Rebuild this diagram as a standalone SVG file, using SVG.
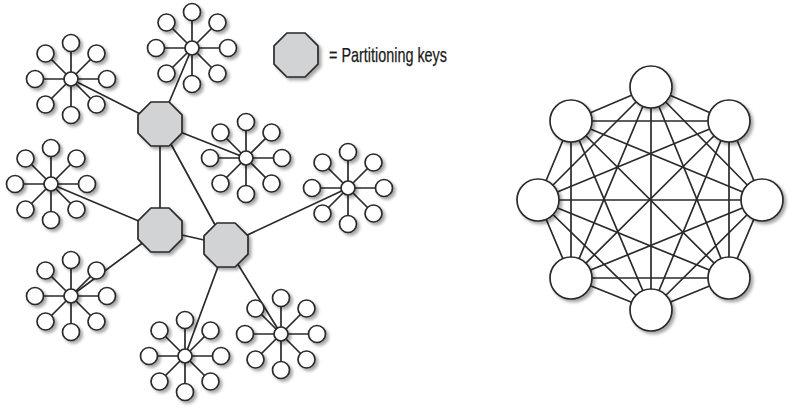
<svg xmlns="http://www.w3.org/2000/svg" xmlns:xlink="http://www.w3.org/1999/xlink" width="800" height="411" viewBox="0 0 800 411">
<style>
  .ln { stroke: #2a2a2a; stroke-width: 1.7; fill: none; stroke-linecap: round; }
  .node { fill: #ffffff; stroke: #2a2a2a; stroke-width: 1.7; }
  .key { fill: #d2d3d5; stroke: #2a2a2a; stroke-width: 1.7; stroke-linejoin: round; }
  .lbl { font-family: "Liberation Sans", Arial, sans-serif; font-size: 21px; fill: #1a1a1a; stroke: #1a1a1a; stroke-width: 0.25; }
</style>
<defs>
  <filter id="sh" x="-30%" y="-30%" width="170%" height="170%">
    <feDropShadow dx="2.5" dy="2.5" stdDeviation="1.8" flood-color="#000" flood-opacity="0.35"/>
  </filter>
  <g id="star">
    <g class="ln">
      <line x1="0" y1="0" x2="0" y2="-36"/>
      <line x1="0" y1="0" x2="25.5" y2="-25.5"/>
      <line x1="0" y1="0" x2="36" y2="0"/>
      <line x1="0" y1="0" x2="25.5" y2="25.5"/>
      <line x1="0" y1="0" x2="0" y2="36"/>
      <line x1="0" y1="0" x2="-25.5" y2="25.5"/>
      <line x1="0" y1="0" x2="-36" y2="0"/>
      <line x1="0" y1="0" x2="-25.5" y2="-25.5"/>
    </g>
    <g filter="url(#sh)">
      <circle class="node" cx="0" cy="0" r="7"/>
      <circle class="node" cx="0" cy="-36" r="8.5"/>
      <circle class="node" cx="25.5" cy="-25.5" r="8.5"/>
      <circle class="node" cx="36" cy="0" r="8.5"/>
      <circle class="node" cx="25.5" cy="25.5" r="8.5"/>
      <circle class="node" cx="0" cy="36" r="8.5"/>
      <circle class="node" cx="-25.5" cy="25.5" r="8.5"/>
      <circle class="node" cx="-36" cy="0" r="8.5"/>
      <circle class="node" cx="-25.5" cy="-25.5" r="8.5"/>
    </g>
  </g>
  <polygon id="oct" class="key" points="22,9.1 9.1,22 -9.1,22 -22,9.1 -22,-9.1 -9.1,-22 9.1,-22 22,-9.1"/>
</defs>

<rect width="800" height="411" fill="#ffffff"/>

<!-- connectors -->
<g id="connectors" class="ln">
  <!-- partitioning key links -->
  <line x1="160" y1="124" x2="71" y2="79"/>
  <line x1="160" y1="124" x2="192" y2="48"/>
  <line x1="160" y1="124" x2="246" y2="158"/>
  <line x1="160" y1="124" x2="160" y2="230"/>
  <line x1="160" y1="124" x2="226" y2="245"/>
  <line x1="160" y1="230" x2="51" y2="184"/>
  <line x1="160" y1="230" x2="226" y2="245"/>
  <line x1="160" y1="230" x2="71" y2="296"/>
  <line x1="226" y1="245" x2="348" y2="188"/>
  <line x1="226" y1="245" x2="185" y2="356"/>
  <line x1="226" y1="245" x2="281" y2="334"/>
  <!-- full mesh -->
  <line x1="651" y1="87" x2="729" y2="121"/>
  <line x1="651" y1="87" x2="762" y2="200"/>
  <line x1="651" y1="87" x2="729" y2="278"/>
  <line x1="651" y1="87" x2="651" y2="310"/>
  <line x1="651" y1="87" x2="571" y2="278"/>
  <line x1="651" y1="87" x2="538" y2="200"/>
  <line x1="651" y1="87" x2="571" y2="121"/>
  <line x1="729" y1="121" x2="762" y2="200"/>
  <line x1="729" y1="121" x2="729" y2="278"/>
  <line x1="729" y1="121" x2="651" y2="310"/>
  <line x1="729" y1="121" x2="571" y2="278"/>
  <line x1="729" y1="121" x2="538" y2="200"/>
  <line x1="729" y1="121" x2="571" y2="121"/>
  <line x1="762" y1="200" x2="729" y2="278"/>
  <line x1="762" y1="200" x2="651" y2="310"/>
  <line x1="762" y1="200" x2="571" y2="278"/>
  <line x1="762" y1="200" x2="538" y2="200"/>
  <line x1="762" y1="200" x2="571" y2="121"/>
  <line x1="729" y1="278" x2="651" y2="310"/>
  <line x1="729" y1="278" x2="571" y2="278"/>
  <line x1="729" y1="278" x2="538" y2="200"/>
  <line x1="729" y1="278" x2="571" y2="121"/>
  <line x1="651" y1="310" x2="571" y2="278"/>
  <line x1="651" y1="310" x2="538" y2="200"/>
  <line x1="651" y1="310" x2="571" y2="121"/>
  <line x1="571" y1="278" x2="538" y2="200"/>
  <line x1="571" y1="278" x2="571" y2="121"/>
  <line x1="538" y1="200" x2="571" y2="121"/>
</g>

<!-- stars -->
<g id="star1"><use xlink:href="#star" href="#star" transform="translate(71,79)"/></g>
<g id="star2"><use xlink:href="#star" href="#star" transform="translate(192,48)"/></g>
<g id="star3"><use xlink:href="#star" href="#star" transform="translate(246,158)"/></g>
<g id="star4"><use xlink:href="#star" href="#star" transform="translate(51,184)"/></g>
<g id="star5"><use xlink:href="#star" href="#star" transform="translate(348,188)"/></g>
<g id="star6"><use xlink:href="#star" href="#star" transform="translate(71,296)"/></g>
<g id="star7"><use xlink:href="#star" href="#star" transform="translate(185,356)"/></g>
<g id="star8"><use xlink:href="#star" href="#star" transform="translate(281,334)"/></g>

<!-- partitioning keys -->
<g id="keyA" filter="url(#sh)"><use xlink:href="#oct" href="#oct" transform="translate(160,124)"/></g>
<g id="keyB" filter="url(#sh)"><use xlink:href="#oct" href="#oct" transform="translate(160,230)"/></g>
<g id="keyC" filter="url(#sh)"><use xlink:href="#oct" href="#oct" transform="translate(226,245)"/></g>

<!-- legend -->
<g id="legend">
  <g filter="url(#sh)"><use xlink:href="#oct" href="#oct" transform="translate(296,55)"/></g>
  <text class="lbl" x="329" y="61.5" textLength="118" lengthAdjust="spacingAndGlyphs">= Partitioning keys</text>
</g>

<!-- mesh nodes -->
<g filter="url(#sh)">
  <g id="m0"><circle class="node" cx="651" cy="87" r="21"/></g>
  <g id="m1"><circle class="node" cx="729" cy="121" r="21"/></g>
  <g id="m2"><circle class="node" cx="762" cy="200" r="21"/></g>
  <g id="m3"><circle class="node" cx="729" cy="278" r="21"/></g>
  <g id="m4"><circle class="node" cx="651" cy="310" r="21"/></g>
  <g id="m5"><circle class="node" cx="571" cy="278" r="21"/></g>
  <g id="m6"><circle class="node" cx="538" cy="200" r="21"/></g>
  <g id="m7"><circle class="node" cx="571" cy="121" r="21"/></g>
</g>
</svg>
